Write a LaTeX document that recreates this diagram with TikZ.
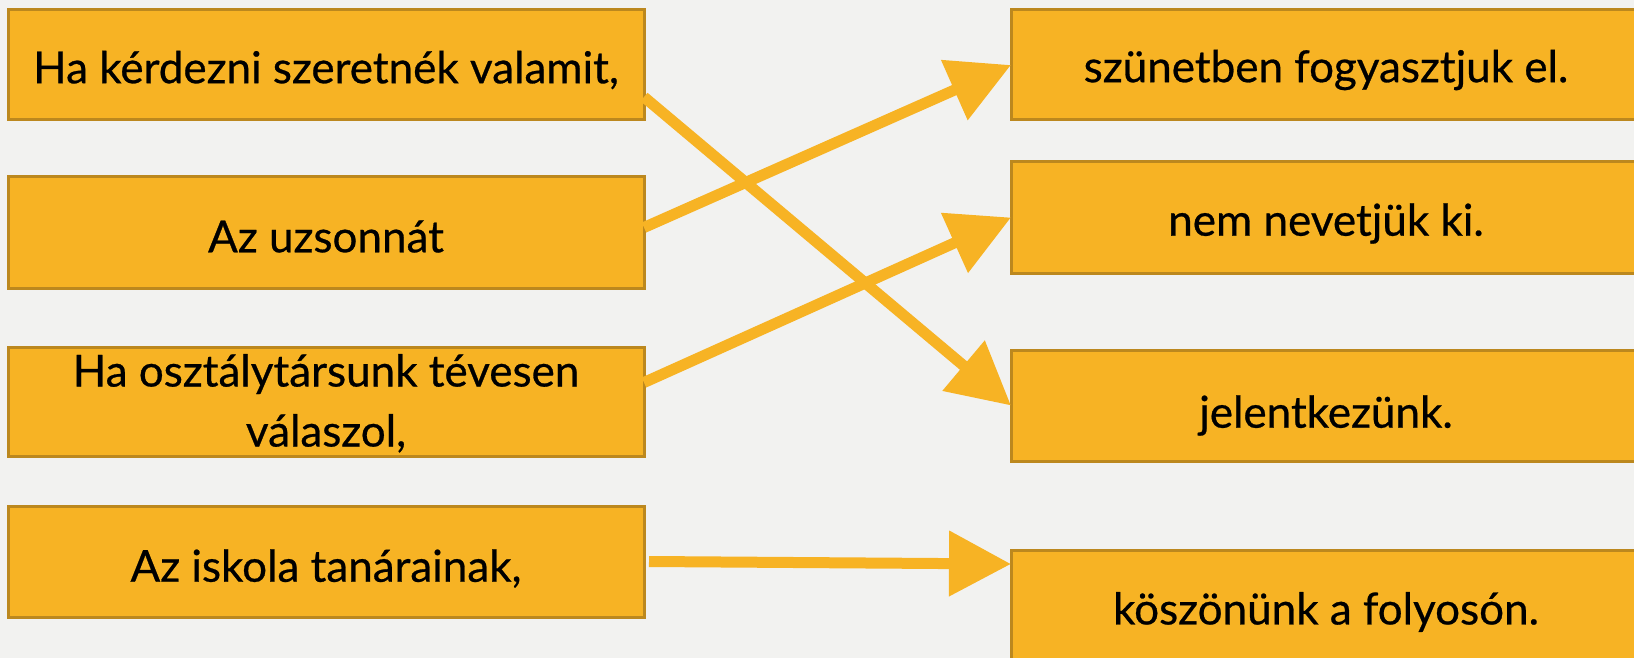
\documentclass[tikz,border=0pt]{standalone}
\usepackage{fontspec}
\setmainfont{Lato}[FakeBold=0.6,AutoFakeBold=0.6]
\usetikzlibrary{arrows.meta}
\definecolor{bg}{RGB}{242,242,240}
\definecolor{boxfill}{RGB}{247,179,36}
\definecolor{boxline}{RGB}{188,136,30}
\newcommand\tdown[2]{\raisebox{-#1}[\height][\depth]{#2}}
\newcommand\tdowntight[2]{\raisebox{-#1}[\dimexpr\height-12pt\relax][\dimexpr\depth-12pt\relax]{#2}}
\begin{document}
\begin{tikzpicture}[x=1pt,y=-1pt,
  box/.style={draw=boxline, fill=boxfill, line width=3pt, inner sep=0pt, outer sep=0pt,
    anchor=north west, font=\fontsize{44}{60}\selectfont, align=center, text=black},
  link/.style={draw=boxfill, line width=11pt, -{Triangle[length=62pt,width=63pt]}}]
\fill[bg] (0,0) rectangle (1634,658);
\useasboundingbox (0,0) rectangle (1634,658);
\clip (0,0) rectangle (1634,658);
% left column
\node[box, minimum width=636pt, minimum height=110pt] (L1) at (8,10) {\tdown{5pt}{Ha kérdezni szeretnék valamit,}};
\node[box, minimum width=636pt, minimum height=111pt] (L2) at (8,177) {\tdown{4pt}{Az uzsonnát}};
\node[box, minimum width=636pt, minimum height=109pt] (L3) at (8,347) {\tdowntight{3pt}{\begin{tabular}{@{}c@{}}Ha osztálytársunk tévesen\\válaszol,\end{tabular}}};
\node[box, minimum width=636pt, minimum height=111pt] (L4) at (8,506) {\tdown{7pt}{Az iskola tanárainak,}};
% right column
\node[box, minimum width=630pt, minimum height=110pt] (R1) at (1011,10) {\tdown{5pt}{szünetben fogyasztjuk el.}};
\node[box, minimum width=630pt, minimum height=111pt] (R2) at (1011,162) {\tdown{6pt}{nem nevetjük ki.}};
\node[box, minimum width=630pt, minimum height=111pt] (R3) at (1011,350) {\tdown{10pt}{jelentkezünk.}};
\node[box, minimum width=630pt, minimum height=124pt] (R4) at (1011,550) {köszönünk a folyosón.};
% connectors
\draw[link] ([yshift=-32pt]L1.east) -- (R3.west);
\draw[link] ([yshift=5pt]L2.east) -- (R1.west);
\draw[link] ([yshift=19pt]L3.east) -- (R2.west);
\draw[link] ([xshift=5pt]L4.east) -- ([yshift=-14pt]R4.north west);
\end{tikzpicture}
\end{document}
